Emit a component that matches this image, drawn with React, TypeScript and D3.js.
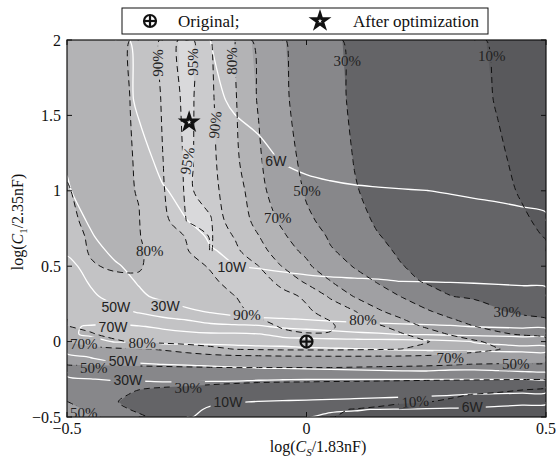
import React, { useEffect, useRef } from 'react';
import * as d3 from 'd3';

// grid columns: log(Cs/1.83nF); grid rows: log(C1/2.35nF), top row first
const csLog = [-0.5, -0.45, -0.4, -0.35, -0.3, -0.25, -0.2, -0.15, -0.1, -0.05, 0, 0.05, 0.1, 0.15, 0.2, 0.25, 0.3, 0.35, 0.4, 0.45, 0.5];
const c1Log = [2, 1.6, 1.2, 1, 0.8, 0.7, 0.6, 0.5, 0.4, 0.3, 0.2, 0.15, 0.1, 0.05, 0, -0.05, -0.1, -0.15, -0.2, -0.25, -0.3, -0.35, -0.4, -0.45, -0.5];

// efficiency (%)
const efficiency = [
  [74, 76, 77.5, 81.5, 91.5, 97, 90.2, 79.8, 66, 52, 38, 33, 27, 22, 18, 15, 13, 11, 9, 7, 6],
  [74.5, 76.5, 77.8, 81.3, 90.8, 96.5, 91.5, 81, 69, 54, 40, 34, 28, 23, 19, 16, 14, 12, 9.5, 7.5, 6.5],
  [79.3, 78.5, 78.5, 80.5, 89.9, 96, 92.5, 82, 72, 58, 45, 38, 29.5, 24, 20, 17, 15, 13, 11, 8.5, 7],
  [80.3, 78.5, 78.5, 80.3, 89.5, 95.8, 93, 84.5, 74, 62, 48, 40, 31, 26, 21, 18, 16, 14, 12, 9.3, 7.5],
  [81, 79, 78.8, 79.7, 88, 95.1, 95.4, 86, 77, 68, 53, 45, 35, 28, 24, 20.5, 18, 16, 13.5, 11, 8.5],
  [82, 79.3, 78.8, 79.5, 86, 90.5, 95.5, 89.5, 80.2, 71.5, 63, 47, 38, 30.5, 26, 22.5, 19.5, 17, 15, 12.5, 9.5],
  [83, 79.5, 78.8, 78.8, 84.5, 89.5, 95.2, 92, 84, 74, 68, 52, 43, 33, 28, 25, 22, 19.5, 17, 14.5, 11.5],
  [84, 80.5, 79.2, 79.4, 83, 88, 90.5, 93.5, 90.1, 79.5, 72, 63, 48.5, 39, 30.3, 27, 24.5, 22, 19.5, 17, 14],
  [85, 83, 81.5, 81, 83.5, 86.5, 89, 92, 93, 88, 78, 70.2, 60, 48, 36, 28, 26, 24, 22, 20, 18],
  [85.5, 84, 83, 83, 84, 86, 88, 89.9, 92, 92, 89, 78.5, 69.5, 60, 49, 40, 30.3, 28, 26.5, 25, 23.5],
  [84, 84, 84, 84, 84.5, 85.5, 87, 89, 91, 92, 91, 87.5, 80.5, 72, 63, 52, 44, 38, 31, 27, 25],
  [82, 83, 83.5, 84, 84.5, 85.5, 87, 88.5, 89.8, 91.5, 92, 89.6, 83, 76, 70.3, 58, 51, 44, 37, 33.5, 30.5],
  [79.8, 81.5, 83, 84, 84.5, 85.2, 86.2, 87.3, 88.8, 90.3, 92, 91, 86, 81.5, 76, 68.5, 59, 50.3, 46, 43, 40],
  [75, 79.5, 82, 83.5, 84.3, 85, 86, 87, 88, 89.3, 89.6, 89.5, 87.5, 84, 80.5, 76, 69, 62, 52, 48.5, 45],
  [70.5, 74, 79, 81, 82.5, 83.5, 84.5, 85.5, 86.5, 87.5, 88, 87.5, 86, 84.5, 82.5, 80.5, 77, 72, 66, 60, 55],
  [66, 67.5, 68.5, 69.2, 71, 74, 77.5, 80.2, 80.8, 81.2, 81.3, 81.3, 81, 80.6, 79.9, 78, 75.5, 73, 70.5, 65, 59],
  [56, 58, 60, 62, 64, 65.5, 67, 68, 68.5, 69, 69.2, 69.3, 69.3, 69.2, 69, 68.5, 67.5, 66, 64, 61, 57],
  [50.5, 51, 51.5, 52, 52.5, 53, 53.5, 54, 54, 54, 54, 54, 53.5, 53, 52.5, 52, 51, 49.8, 49, 48.5, 48],
  [43, 43, 43, 43.5, 44, 44.5, 45, 45, 45, 45, 45, 45, 44.5, 44, 43.5, 43, 42.5, 42, 41.5, 41, 40.5],
  [38, 37.5, 37, 36.5, 36, 35.5, 35, 35, 34.5, 34.5, 34.5, 34, 34, 33.5, 33, 32.5, 32, 31.5, 31, 30.5, 30.1],
  [34, 33, 32, 31, 30.4, 29.5, 28, 26, 24, 22.5, 21.5, 20.5, 19.5, 18.5, 17, 15.5, 14, 13, 12, 11, 10.3],
  [36, 34, 32, 28.5, 25, 22, 19.5, 17.5, 16, 15, 14.5, 14, 13.5, 13, 12, 11.3, 10.6, 9.9, 9.3, 8.6, 8],
  [50.5, 40, 31, 24, 19.5, 16.5, 14.5, 13.5, 12.8, 12.3, 12, 11.7, 11.3, 10.8, 10.3, 10.1, 9.5, 9, 8.5, 8, 7.5],
  [58, 46, 35, 27, 21, 17, 14.5, 13, 12, 11.3, 10.8, 10.3, 9.9, 9.5, 9, 8.5, 8, 7.5, 7, 6.5, 6],
  [62, 54, 44, 33, 24, 18.5, 15.5, 13.5, 12.3, 11.3, 10.5, 10.1, 9.5, 9, 8.5, 8, 7.5, 7, 6.5, 6, 5.5],
];

// output power (W)
const power = [
  [18, 15, 11.5, 9, 7.8, 6.8, 5.98, 5.3, 4.8, 4.4, 4.1, 3.9, 3.7, 3.6, 3.5, 3.4, 3.3, 3.2, 3.1, 3.05, 3],
  [21, 17, 12.5, 9.3, 8, 7.2, 6.5, 5.7, 5.2, 4.8, 4.5, 4.3, 4.1, 4, 3.9, 3.8, 3.7, 3.6, 3.5, 3.45, 3.4],
  [29, 22, 16, 11.5, 9, 8, 7.5, 7, 6.6, 5.9, 5.4, 5, 4.8, 4.6, 4.5, 4.4, 4.3, 4.2, 4.1, 4.05, 4],
  [31, 25.5, 19, 14, 10.3, 9, 8.3, 7.8, 7.4, 7, 6.7, 6.5, 6.3, 6.2, 6.1, 6.02, 5.9, 5.8, 5.7, 5.6, 5.5],
  [36, 28.5, 21.5, 16, 12.5, 10.05, 9.2, 8.7, 8.3, 8, 7.7, 7.5, 7.3, 7.1, 7, 6.9, 6.8, 6.6, 6.5, 6.35, 6.2],
  [40, 31, 24, 18, 14, 11.2, 9.6, 9.1, 8.7, 8.4, 8.2, 8, 7.8, 7.6, 7.5, 7.4, 7.3, 7.2, 7.05, 6.9, 6.8],
  [48, 36, 26.5, 20, 15.5, 12.5, 10.2, 9.5, 9.2, 9, 8.8, 8.6, 8.4, 8.3, 8.2, 8.1, 8, 7.9, 7.8, 7.7, 7.6],
  [54, 45, 32, 25, 19.5, 15, 12, 10.05, 9.8, 9.7, 9.6, 9.5, 9.45, 9.4, 9.35, 9.3, 9.25, 9.2, 9.15, 9.1, 9],
  [60, 48, 37, 28.5, 22, 17, 14, 12, 11, 10.5, 10.3, 10.2, 10.15, 10.1, 9.98, 9.95, 9.9, 9.85, 9.8, 9.75, 9.7],
  [66, 53, 44, 33, 26, 21, 18, 16, 14.5, 13.5, 13, 12.5, 12.2, 12, 11.7, 11.5, 11.2, 11, 10.8, 10.6, 10.5],
  [67, 60, 55, 48, 40, 33, 28.5, 24, 22, 19, 17.5, 16.5, 15.8, 15.3, 14.8, 14.4, 14, 13.7, 13.4, 13.1, 12.8],
  [68, 65, 63, 58, 53, 48, 38, 35, 32, 31, 29, 27, 25.5, 24.5, 23.5, 22.5, 21.5, 20.5, 19.5, 18.5, 17.5],
  [68.5, 71, 73, 71, 67.5, 63, 58, 55, 53, 46, 42, 38, 36, 34.5, 33.5, 32.5, 31.5, 29.5, 28, 27, 26],
  [68.5, 71.5, 76, 76, 75, 73.5, 72, 72, 70.5, 67, 64, 60, 55, 52, 49, 47.5, 46, 44.5, 43.5, 42, 40],
  [66, 67, 70.5, 70.3, 72.5, 73, 73, 73.5, 74, 74, 75, 76, 77, 77.5, 77.5, 76, 73.5, 69.5, 67.5, 64, 62],
  [56, 61, 63, 63, 64, 64, 65, 66, 67, 67.5, 68.5, 69, 69.5, 70.2, 71, 71.5, 72, 73, 74, 74.5, 75],
  [46, 51, 55, 56, 57, 57, 58, 59, 60, 60.5, 61, 61.5, 62, 62.5, 63, 63, 62.5, 62, 62, 62, 62],
  [40, 44, 48, 49, 50.3, 51, 52, 53, 54, 54.5, 55, 55.5, 56, 56.5, 57, 57, 56.5, 56, 55.5, 55.2, 55],
  [35, 37, 39, 40, 41, 42, 44, 45, 46, 46.5, 47, 47.5, 48, 48.5, 49, 49.2, 48, 48, 49, 49.8, 50.5],
  [27, 29.5, 31, 31, 31.5, 32, 32, 32, 31, 30.5, 30.2, 30.2, 30.2, 30.2, 30.2, 30.2, 30.1, 30.1, 30.1, 30.1, 29.5],
  [23, 25, 26, 26.5, 27, 26, 25, 24, 23, 22.5, 22, 21.5, 21, 20.5, 20, 19, 18.5, 18, 17, 16, 15],
  [21, 22, 23, 23.5, 24, 20, 17, 15, 14, 13.5, 13, 12.5, 12, 11.5, 11.2, 10.8, 10.4, 9.8, 9.3, 8.9, 8.5],
  [20, 21, 22, 22, 22, 16, 12, 10.4, 9.7, 9.3, 9, 8.8, 8.5, 8.2, 8, 7.8, 7.5, 7.2, 7, 6.7, 6.5],
  [19, 20, 21, 21, 20.5, 13, 8.5, 8, 7.5, 7, 6.8, 6.15, 6.1, 5.95, 5.9, 5.8, 5.7, 5.6, 5.3, 5.1, 5],
  [18, 19, 20, 20, 19, 11, 7, 6.8, 6.4, 6.1, 6.05, 5.8, 5.6, 5.5, 5.4, 5.2, 5, 4.9, 4.6, 4.3, 4],
];

const effLevels = [10, 30, 50, 70, 80, 90, 95];
const powerLevels = [6, 10, 30, 50, 70];

// inline contour labels: text, x, y, angle
const effLabels: [string, number, number, number][] = [
  ['90%', -0.31, 1.848, -90], ['95%', -0.237, 1.854, -90], ['80%', -0.156, 1.861, -90],
  ['90%', -0.191, 1.437, -84], ['95%', -0.249, 1.199, -80], ['30%', 0.085, 1.861, 0],
  ['10%', 0.387, 1.894, 0], ['50%', 0.001, 1.0, 0], ['70%', -0.06, 0.821, 0],
  ['80%', -0.327, 0.603, 0], ['90%', -0.124, 0.179, 0], ['80%', 0.118, 0.146, 0],
  ['80%', -0.343, -0.007, 0], ['70%', -0.465, -0.013, 0], ['50%', -0.444, -0.172, 0],
  ['30%', -0.247, -0.305, 0], ['50%', -0.465, -0.47, 0], ['70%', 0.3, -0.106, 0],
  ['50%', 0.437, -0.146, 0], ['30%', 0.419, 0.199, 0], ['10%', 0.227, -0.397, -4],
];
const powerLabels: [string, number, number, number][] = [
  ['6W', -0.064, 1.199, 0], ['10W', -0.156, 0.497, 0], ['50W', -0.398, 0.232, 0],
  ['30W', -0.295, 0.238, 0], ['70W', -0.404, 0.093, 0], ['50W', -0.383, -0.132, 0],
  ['30W', -0.373, -0.252, 0], ['10W', -0.164, -0.404, 0], ['6W', 0.346, -0.437, 0],
];

const original = [0, 0];
const optimized = [-0.245, 1.455];

const xTicks = [-0.5, 0, 0.5];
const yTicks = [-0.5, 0, 0.5, 1, 1.5, 2];

const bandColors = ['#59595c', '#646467', '#87878a', '#a0a0a3', '#b3b3b5', '#c3c3c5', '#cbcbcd', '#d9d9db'];
const serif = "'Liberation Serif', 'Times New Roman', serif";
const sans = "'Liberation Sans', Arial, sans-serif";

const fmt = (v: number) => (v < 0 ? '\u2212' + Math.abs(v) : String(v));

const App = () => {
  const svgRef = useRef<SVGSVGElement>(null);

  useEffect(() => {
    document.body.style.margin = '0';
    const width = 557;
    const height = 462;
    const left = 67, right = 546, top = 40, bottom = 417;

    const svg = d3.select(svgRef.current);
    svg.selectAll('*').remove();
    svg.attr('width', width).attr('height', height);
    svg.append('rect').attr('width', width).attr('height', height).attr('fill', '#fff');

    const x = d3.scaleLinear().domain([-0.5, 0.5]).range([left, right]);
    const y = d3.scaleLinear().domain([-0.5, 2]).range([bottom, top]);

    const nx = csLog.length;
    const ny = c1Log.length;
    const colX = d3.scaleLinear().domain(d3.range(nx)).range(csLog);
    const rowY = d3.scaleLinear().domain(d3.range(ny)).range(c1Log);
    const clamp = (v: number, lo: number, hi: number) => Math.max(lo, Math.min(hi, v));
    const proj = (p: number[]): [number, number] => [
      x(colX(clamp(p[0] - 0.5, 0, nx - 1))),
      y(rowY(clamp(p[1] - 0.5, 0, ny - 1))),
    ];

    const defs = svg.append('defs');
    defs.append('clipPath').attr('id', 'plotClip')
      .append('rect').attr('x', left).attr('y', top).attr('width', right - left).attr('height', bottom - top);
    const mask = defs.append('mask').attr('id', 'labelMask')
      .attr('maskUnits', 'userSpaceOnUse').attr('x', 0).attr('y', 0).attr('width', width).attr('height', height);
    mask.append('rect').attr('width', width).attr('height', height).attr('fill', '#fff');

    const effContours = d3.contours().size([nx, ny]).thresholds(effLevels)(efficiency.flat());
    const powContours = d3.contours().size([nx, ny]).thresholds(powerLevels)(power.flat());

    // filled bands
    const plot = svg.append('g').attr('clip-path', 'url(#plotClip)');
    plot.append('rect').attr('x', left).attr('y', top).attr('width', right - left).attr('height', bottom - top)
      .attr('fill', bandColors[0]);

    const polyPath = (mp: any) =>
      mp.coordinates.map((poly: number[][][]) =>
        poly.map((ring) => 'M' + ring.map((p) => proj(p).join(',')).join('L') + 'Z').join('')
      ).join('');

    plot.selectAll('path.band')
      .data(effContours)
      .join('path')
      .attr('class', 'band')
      .attr('d', polyPath)
      .attr('fill-rule', 'evenodd')
      .attr('fill', (d, i) => bandColors[i + 1]);

    // split rings into open lines, dropping the runs along the plot border
    const onBorder = (a: number[], b: number[]) =>
      (a[0] === 0 && b[0] === 0) || (a[0] === nx && b[0] === nx) ||
      (a[1] === 0 && b[1] === 0) || (a[1] === ny && b[1] === ny);
    const ringLines = (ring: number[][]) => {
      const n = ring.length - 1;
      let start = -1;
      for (let k = 0; k < n; k++) if (onBorder(ring[k], ring[k + 1])) { start = k; break; }
      if (start < 0) return [ring];
      const out: number[][][] = [];
      let cur: number[][] = [];
      for (let t = 1; t <= n; t++) {
        const k = (start + t) % n;
        const a = ring[k], b = ring[k + 1];
        if (onBorder(a, b)) {
          if (cur.length > 1) out.push(cur);
          cur = [];
        } else {
          if (!cur.length) cur.push(a);
          cur.push(b);
        }
      }
      if (cur.length > 1) out.push(cur);
      return out;
    };
    const lineGen = d3.line<number[]>().curve(d3.curveCatmullRom.alpha(0.5));
    const contourLines = (mp: any) => {
      const out: string[] = [];
      mp.coordinates.forEach((poly: number[][][]) =>
        poly.forEach((ring) => ringLines(ring).forEach((l) => out.push(lineGen(l.map(proj)) as string)))
      );
      return out.join('');
    };

    const lines = plot.append('g').attr('mask', 'url(#labelMask)');
    lines.selectAll('path.pow')
      .data(powContours)
      .join('path')
      .attr('class', 'pow')
      .attr('d', contourLines)
      .attr('fill', 'none')
      .attr('stroke', '#fff')
      .attr('stroke-width', 1.3);

    lines.selectAll('path.eff')
      .data(effContours)
      .join('path')
      .attr('class', 'eff')
      .attr('d', contourLines)
      .attr('fill', 'none')
      .attr('stroke', '#111')
      .attr('stroke-width', 1)
      .attr('stroke-dasharray', '6,4');

    // contour labels
    const addLabel = (lbl: [string, number, number, number], font: string, size: number) => {
      const [txt, lx, ly, ang] = lbl;
      const t = `translate(${x(lx)},${y(ly)}) rotate(${ang})`;
      const el = plot.append('text')
        .attr('transform', t)
        .attr('text-anchor', 'middle')
        .attr('dy', '0.35em')
        .attr('font-family', font)
        .attr('font-size', size)
        .attr('fill', '#222')
        .text(txt);
      const w = (el.node() as SVGTextElement).getComputedTextLength();
      mask.append('rect')
        .attr('transform', t)
        .attr('x', -w / 2 - 3).attr('y', -size * 0.45)
        .attr('width', w + 6).attr('height', size * 0.9)
        .attr('fill', '#000');
    };
    effLabels.forEach((l) => addLabel(l, serif, 15));
    powerLabels.forEach((l) => addLabel(l, sans, 14));

    // markers
    const drawOplus = (g: any, cx: number, cy: number) => {
      g.append('circle').attr('cx', cx).attr('cy', cy).attr('r', 6).attr('fill', 'none')
        .attr('stroke', '#111').attr('stroke-width', 2.2);
      g.append('line').attr('x1', cx - 6).attr('x2', cx + 6).attr('y1', cy).attr('y2', cy)
        .attr('stroke', '#111').attr('stroke-width', 2.2);
      g.append('line').attr('x1', cx).attr('x2', cx).attr('y1', cy - 6).attr('y2', cy + 6)
        .attr('stroke', '#111').attr('stroke-width', 2.2);
    };
    const star = d3.symbol().type(d3.symbolStar).size(58);
    const drawStar = (g: any, cx: number, cy: number) => {
      g.append('path').attr('d', star()).attr('transform', `translate(${cx},${cy})`)
        .attr('fill', '#fff').attr('stroke', '#111').attr('stroke-width', 3).attr('stroke-linejoin', 'miter');
    };
    drawOplus(svg, x(original[0]), y(original[1]));
    drawStar(svg, x(optimized[0]), y(optimized[1]));

    // frame and ticks
    svg.append('rect').attr('x', left).attr('y', top).attr('width', right - left).attr('height', bottom - top)
      .attr('fill', 'none').attr('stroke', '#111').attr('stroke-width', 1.2);
    const tickLen = 5;
    xTicks.forEach((t) => {
      svg.append('line').attr('x1', x(t)).attr('x2', x(t)).attr('y1', bottom).attr('y2', bottom - tickLen).attr('stroke', '#111');
      svg.append('line').attr('x1', x(t)).attr('x2', x(t)).attr('y1', top).attr('y2', top + tickLen).attr('stroke', '#111');
      svg.append('text').attr('x', x(t)).attr('y', 434).attr('text-anchor', 'middle')
        .attr('font-family', serif).attr('font-size', 16).attr('fill', '#111').text(fmt(t));
    });
    yTicks.forEach((t) => {
      svg.append('line').attr('x1', left).attr('x2', left + tickLen).attr('y1', y(t)).attr('y2', y(t)).attr('stroke', '#111');
      svg.append('line').attr('x1', right).attr('x2', right - tickLen).attr('y1', y(t)).attr('y2', y(t)).attr('stroke', '#111');
      svg.append('text').attr('x', 61).attr('y', y(t)).attr('dy', '0.35em').attr('text-anchor', 'end')
        .attr('font-family', serif).attr('font-size', 16).attr('fill', '#111').text(fmt(t));
    });

    // axis titles
    const xt = svg.append('text').attr('x', 318).attr('y', 452).attr('text-anchor', 'middle')
      .attr('font-family', serif).attr('font-size', 16).attr('fill', '#111');
    xt.append('tspan').text('log(');
    xt.append('tspan').attr('font-style', 'italic').text('C');
    xt.append('tspan').attr('font-style', 'italic').attr('font-size', 11).attr('dy', 4).text('S');
    xt.append('tspan').attr('dy', -4).text('/1.83nF)');

    const yt = svg.append('text').attr('transform', 'translate(23,222) rotate(-90)').attr('text-anchor', 'middle')
      .attr('font-family', serif).attr('font-size', 16).attr('fill', '#111');
    yt.append('tspan').text('log(');
    yt.append('tspan').attr('font-style', 'italic').text('C');
    yt.append('tspan').attr('font-size', 11).attr('dy', 4).text('1');
    yt.append('tspan').attr('dy', -4).text('/2.35nF)');

    // legend
    const lg = svg.append('g');
    lg.append('rect').attr('x', 122).attr('y', 8).attr('width', 366).attr('height', 26)
      .attr('fill', '#fff').attr('stroke', '#111').attr('stroke-width', 1);
    drawOplus(lg, 150, 21);
    lg.append('text').attr('x', 178).attr('y', 27).attr('font-family', serif).attr('font-size', 17)
      .attr('fill', '#111').text('Original;');
    drawStar(lg, 320, 21);
    lg.append('text').attr('x', 353).attr('y', 27).attr('font-family', serif).attr('font-size', 17)
      .attr('fill', '#111').text('After optimization');
  }, []);

  return <svg ref={svgRef} style={{ position: 'absolute', left: 0, top: 0 }}></svg>;
};

export default App;
